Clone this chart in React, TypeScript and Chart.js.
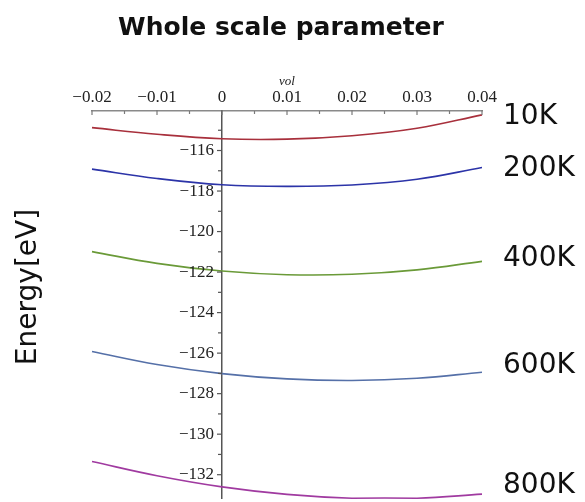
import React, { useEffect, useRef } from "react";
import { Chart, registerables } from "chart.js";

Chart.register(...registerables);

const volumes = [-0.02, -0.01, 0, 0.01, 0.02, 0.03, 0.04];
const energy10K = [-114.87, -115.2, -115.42, -115.44, -115.27, -114.9, -114.24];
const energy200K = [-116.92, -117.38, -117.69, -117.77, -117.7, -117.42, -116.84];
const energy400K = [-120.99, -121.57, -121.95, -122.13, -122.11, -121.89, -121.47];
const energy600K = [-125.92, -126.56, -127.01, -127.27, -127.35, -127.24, -126.94];
const energy800K = [-131.35, -132.05, -132.6, -132.97, -133.16, -133.16, -132.96];

const seriesNames = ["10K", "200K", "400K", "600K", "800K"];
const seriesValues = [energy10K, energy200K, energy400K, energy600K, energy800K];
const seriesColors = ["#a8303c", "#2c34a8", "#6a9a38", "#5570a8", "#a03aa0"];

const titleText = "Whole scale parameter";
const xAxisTitle = "vol";
const yAxisTitle = "Energy[eV]";

const xMin = -0.02;
const xMax = 0.04;
const yMin = -133.15;
const yMax = -114.05;

const fmt = (v: number, digits: number) => {
  if (Math.abs(v) < 1e-9) return "0";
  return (v < 0 ? "\u2212" : "") + Math.abs(v).toFixed(digits);
};

export default function App() {
  const ref = useRef<HTMLCanvasElement | null>(null);

  useEffect(() => {
    const canvas = ref.current;
    if (!canvas) return;

    const labelNudge = [2, 1, -3, -6, -8];

    const decorations = {
      id: "decorations",
      afterDraw(chart: any) {
        const ctx = chart.ctx;
        const xs = chart.scales.x;
        const ys = chart.scales.y;
        const area = chart.chartArea;
        ctx.save();
        // x tick marks (pointing into plot)
        ctx.strokeStyle = "#7a7a7a";
        ctx.lineWidth = 1.2;
        xs.ticks.forEach((t: any) => {
          const px = xs.getPixelForValue(t.value);
          const major = Math.abs(t.value * 100 - Math.round(t.value * 100)) < 1e-6;
          ctx.beginPath();
          ctx.moveTo(px, area.top - (major ? 1 : 0));
          ctx.lineTo(px, area.top + (major ? 4 : 3));
          ctx.stroke();
        });
        // y tick marks and labels (left of the axis through vol = 0)
        const axisX = xs.getPixelForValue(0);
        ctx.strokeStyle = "#555";
        ctx.fillStyle = "#222";
        ctx.textAlign = "right";
        ctx.textBaseline = "middle";
        ctx.font = "17px 'Liberation Serif', 'DejaVu Serif', serif";
        ys.ticks.forEach((t: any) => {
          const py = ys.getPixelForValue(t.value);
          const n = Math.round(t.value);
          const major = n % 2 === 0;
          ctx.beginPath();
          ctx.moveTo(axisX - (major ? 5 : 4), py);
          ctx.lineTo(axisX, py);
          ctx.stroke();
          if (major) ctx.fillText(fmt(n, 0), axisX - 8, py);
        });
        // title
        ctx.fillStyle = "#111";
        ctx.textAlign = "center";
        ctx.textBaseline = "middle";
        ctx.font = "bold 25px 'DejaVu Sans', sans-serif";
        ctx.fillText(titleText, 281, 28);
        // y title
        ctx.save();
        ctx.translate(29, 287);
        ctx.rotate(-Math.PI / 2);
        ctx.font = "28px 'DejaVu Sans', sans-serif";
        ctx.fillText(yAxisTitle, 0, 0);
        ctx.restore();
        // series labels at curve ends
        ctx.textAlign = "left";
        ctx.font = "28px 'DejaVu Sans', sans-serif";
        chart.data.datasets.forEach((ds: any, i: number) => {
          const meta = chart.getDatasetMeta(i);
          const last = meta.data[meta.data.length - 1];
          ctx.fillText(ds.label, 503, last.y + labelNudge[i]);
        });
        ctx.restore();
      },
    };

    const chart = new Chart(canvas, {
      type: "line",
      data: {
        datasets: seriesValues.map((vals, i) => ({
          label: seriesNames[i],
          data: volumes.map((v, j) => ({ x: v, y: vals[j] })),
          borderColor: seriesColors[i],
          backgroundColor: seriesColors[i],
          borderWidth: 1.6,
          pointRadius: 0,
          tension: 0.4,
          fill: false,
          clip: 4,
        })),
      },
      options: {
        responsive: false,
        animation: false,
        devicePixelRatio: 1,
        layout: { padding: { left: 92, right: 103, top: 74, bottom: 4 } },
        plugins: {
          legend: { display: false },
          title: { display: false },
          tooltip: { enabled: false },
        },
        scales: {
          x: {
            type: "linear",
            position: "top",
            min: xMin,
            max: xMax,
            grid: { display: false, drawTicks: false },
            border: { display: true, color: "#8a8a8a", width: 1.5 },
            ticks: {
              stepSize: 0.005,
              padding: 3,
              color: "#222",
              font: { family: "'Liberation Serif', 'DejaVu Serif', serif", size: 17 },
              maxRotation: 0,
              autoSkip: false,
              callback: (v: any) => {
                const n = Number(v);
                const major = Math.abs(n * 100 - Math.round(n * 100)) < 1e-6;
                return major ? fmt(n, 2) : "";
              },
            },
            title: {
              display: true,
              text: xAxisTitle,
              color: "#222",
              font: { family: "'Liberation Serif', serif", size: 13, style: "italic" },
              padding: { top: 0, bottom: -5 },
            },
          },
          y: {
            type: "linear",
            position: { x: 0 } as any,
            min: yMin,
            max: yMax,
            afterBuildTicks: (scale: any) => {
              scale.ticks = scale.ticks.filter((t: any) => Math.abs(t.value - Math.round(t.value)) < 1e-6);
            },
            grid: { display: false, drawTicks: false },
            border: { display: true, color: "#555", width: 1.5 },
            ticks: { stepSize: 1, display: false },
          },
        },
      },
      plugins: [decorations],
    } as any);

    return () => chart.destroy();
  }, []);

  return (
    <div style={{ position: "absolute", left: 0, top: 0, width: 585, height: 502, background: "#fff" }}>
      <canvas ref={ref} width={585} height={502} style={{ width: 585, height: 502, display: "block" }} />
    </div>
  );
}
